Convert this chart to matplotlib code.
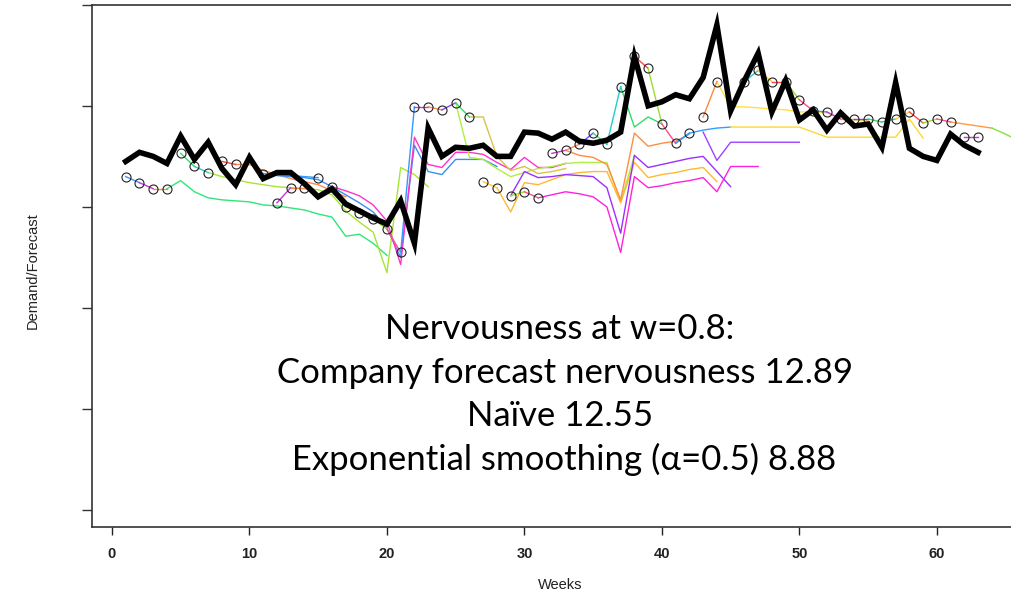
import numpy as np
import matplotlib
matplotlib.use('Agg')
import matplotlib.pyplot as plt

# Недели и фактический спрос (толстая чёрная линия)
weeks = np.arange(1, 64)
demand = [34.5, 35.4, 35.0, 34.3, 37.0, 34.7, 36.4, 33.8, 32.2, 34.9,
          32.8, 33.4, 33.4, 32.3, 31.0, 31.8, 30.3, 29.6, 28.9, 28.3,
          30.6, 26.4, 37.8, 35.0, 35.9, 35.8, 36.1, 35.0, 35.0, 37.4,
          37.3, 36.7, 37.4, 36.5, 36.3, 36.6, 37.4, 44.9, 40.0, 40.4,
          41.1, 40.7, 42.8, 48.0, 39.5, 42.5, 45.2, 39.4, 42.5, 38.6,
          39.6, 37.6, 39.3, 38.0, 38.2, 35.9, 42.3, 35.8, 35.0, 34.6,
          37.2, 36.1, 35.4]

# Прогнозы с кружками (недели и значения по группам)
marked_weeks = [[1, 2, 3, 4], [5, 6, 7], [8, 9], [11, 15], [12, 13, 14],
                list(range(16, 27)), [27, 28], [29, 30, 31],
                list(range(32, 38)), list(range(38, 43)), [43, 44],
                list(range(46, 62)), [62, 63]]
marked_values = [[33.0, 32.4, 31.8, 31.8],
                 [35.3, 34.0, 33.4],
                 [34.5, 34.2],
                 [33.3, 32.9],
                 [30.4, 31.9, 31.9],
                 [32.0, 30.0, 29.4, 28.8, 27.8, 25.5, 39.9, 39.9, 39.6, 40.3, 38.9],
                 [32.5, 31.9],
                 [31.1, 31.5, 30.9],
                 [35.3, 35.6, 36.2, 37.3, 36.2, 41.9],
                 [44.9, 43.7, 38.2, 36.3, 37.3],
                 [38.9, 42.4],
                 [42.4, 43.5, 42.4, 42.4, 40.6, 39.5, 39.4, 38.7, 38.7, 38.7,
                  38.4, 38.7, 39.4, 38.3, 38.7, 38.4],
                 [36.9, 36.9]]

# Траектории прогнозов без маркеров: первая неделя и значения
path_starts = [4, 7, 9, 11, 16, 25, 26, 28, 29, 31, 33, 37, 41, 45, 44, 43, 61, 64]
path_values = [
    [31.8, 32.6, 31.5, 30.9, 30.7, 30.6, 30.5, 30.2, 30.1, 29.9, 29.7, 29.3, 29.0, 27.1, 27.3, 26.4, 25.2],
    [33.4, 33.0, 32.7, 32.4, 32.2, 32.0, 31.9, 31.8, 31.7, 31.2, 29.6, 28.5, 27.5, 23.5, 33.9, 33.2, 32.0],
    [34.2, 34.2, 33.6, 33.2, 32.8, 32.5, 32.2, 31.6, 31.0],
    [33.3, 33.1, 33.0, 32.9, 32.7, 32.0, 31.2, 30.4, 29.5, 27.9, 25.0, 36.1, 33.5, 33.2, 34.7, 34.7, 34.7, 34.0],
    [32.0, 31.6, 31.1, 30.2, 28.6, 24.3, 36.9, 34.2, 33.9, 35.4, 35.4, 35.2, 34.4, 33.7, 34.9, 33.9, 33.9, 34.3],
    [40.3, 34.9, 34.7, 33.8, 33.0, 33.4, 33.8, 34.0, 34.3, 34.4, 34.4, 34.4, 30.5, 35.1],
    [38.9, 38.9, 35.0, 33.6, 34.0, 33.3, 33.5, 33.8],
    [31.9, 29.5, 32.4, 32.2, 32.7, 33.2, 33.4, 33.5, 33.5, 30.4, 34.4, 32.9, 33.2, 33.4, 33.7, 33.9, 32.5],
    [31.1, 33.5, 32.9, 33.0, 33.2, 33.1, 33.0, 31.9, 27.4, 35.1, 33.9, 34.2, 34.5, 34.8, 35.0, 33.5, 32.0],
    [30.9, 31.2, 31.5, 31.3, 31.0, 30.0, 25.5, 33.0, 31.9, 32.1, 32.4, 32.6, 32.9, 31.5, 34.0, 34.0, 34.0],
    [35.6, 35.1, 34.9, 34.2, 30.7, 37.3, 36.0, 36.3, 36.5, 37.2],
    [41.9, 37.9, 38.9, 38.2],
    [36.3, 37.3, 37.6, 37.8, 37.9],
    [37.9, 37.9, 37.9, 37.9, 37.9, 37.9, 37.4, 36.9, 36.9, 36.9, 36.9, 36.9, 36.9, 38.7, 36.8],
    [42.4, 39.9, 39.9, 39.8, 39.7, 39.6, 39.4, 39.4, 39.3, 38.8, 38.6, 38.5],
    [37.4, 34.6, 36.4, 36.4, 36.4, 36.4, 36.4, 36.4],
    [38.4, 38.2, 38.0, 37.8],
    [37.8, 37.2, 36.5],
]
path_colors = ['#2ee67a', '#a6e632', '#ff8c42', '#3d8ef0', '#ff33cc', '#b0ee44',
               '#d9c34a', '#ffb830', '#9b30ff', '#ff22dd', '#ff8c42', '#33dd66',
               '#2fa0ff', '#ffd830', '#ffe040', '#a040ff', '#ff9a40', '#88e040']

segment_palette = ['#ff4d88', '#3399ff', '#cc33dd', '#ff8844', '#7744ff',
                   '#33dd66', '#22cccc', '#ffcc33', '#ff4444', '#99dd33']

notes = ['Nervousness at w=0.8:',
         ' Company forecast nervousness 12.89',
         'Naïve 12.55',
         ' Exponential smoothing (α=0.5) 8.88']

axis_font = ['Liberation Sans Narrow', 'Liberation Sans', 'DejaVu Sans']

fig = plt.figure(figsize=(10.11, 5.93), dpi=100)
ax = fig.add_axes([0.091, 0.111, 0.92, 0.881])

# Траектории прогнозов
for start, vals, col in zip(path_starts, path_values, path_colors):
    x = np.arange(start, start + len(vals))
    ax.plot(x, vals, color=col, lw=1.0, zorder=2)

# Кружки с цветными отрезками
for wk, vals in zip(marked_weeks, marked_values):
    for i in range(len(wk) - 1):
        ax.plot(wk[i:i + 2], vals[i:i + 2], lw=1.0,
                color=segment_palette[wk[i] % len(segment_palette)], zorder=3)
    ax.plot(wk, vals, ls='none', marker='o', ms=6.5, mfc='none',
            mec='#222222', mew=0.8, zorder=4)

# Спрос
ax.plot(weeks, demand, color='black', lw=4.0, solid_joinstyle='miter', zorder=5)

ax.set_xlim(-1.45, 66.2)
ax.set_ylim(-1.68, 50.0)
ax.set_xticks(range(0, 61, 10))
ax.set_yticks(range(0, 51, 10))
ax.set_yticklabels([])
ax.tick_params(axis='x', length=6, width=1, pad=8, labelsize=10.5, colors='#222222')
ax.tick_params(axis='y', length=7, width=1, colors='#333333')
for lab in ax.get_xticklabels():
    lab.set_family(axis_font)
    lab.set_fontweight('bold')
for s in ax.spines.values():
    s.set_color('#333333')
    s.set_linewidth(1.2)

fig.text(560 / 1011, 1 - 585 / 593, 'Weeks', ha='center', va='center',
         fontsize=10.5, family=axis_font, color='#222222')
fig.text(33 / 1011, 1 - 271 / 593, 'Demand/Forecast', ha='center', va='center',
         rotation=90, fontsize=10.5, family=axis_font, color='#222222')

# Подписи нервозности
baselines = [339, 383, 426, 470]
for txt, yb in zip(notes, baselines):
    fig.text(560 / 1011, 1 - yb / 593, txt, ha='center', va='baseline',
             fontsize=25, family='Lato', color='black')

fig.savefig('out.png', dpi=100)
